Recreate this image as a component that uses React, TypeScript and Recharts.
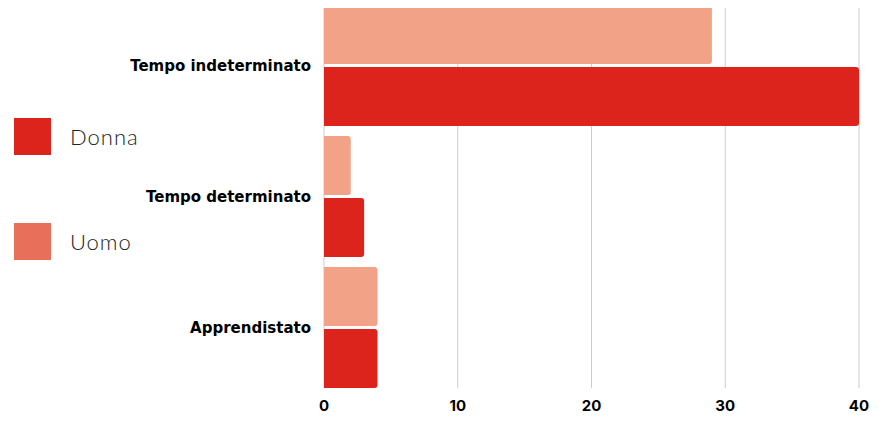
import { BarChart, Bar, XAxis, YAxis, CartesianGrid } from "recharts";

const categories = ["Tempo indeterminato", "Tempo determinato", "Apprendistato"];
const uomo = [29, 2, 4];
const donna = [40, 3, 4];
const xTicks = [0, 10, 20, 30, 40];

const DONNA = "#DC241C";
const UOMO = "#F1A287";
const UOMO_LEGEND = "#E8705A";

const data = categories.map((name, i) => ({ name, Uomo: uomo[i], Donna: donna[i] }));

const legendItems = [
  { label: "Donna", color: DONNA, top: 118 },
  { label: "Uomo", color: UOMO_LEGEND, top: 223 },
];

export default function App() {
  return (
    <div
      style={{
        position: "relative",
        width: 888,
        height: 422,
        margin: -8,
        background: "#fff",
        fontFamily: "Inter, sans-serif",
      }}
    >
      <BarChart
        width={888}
        height={422}
        data={data}
        layout="vertical"
        margin={{ top: 5, right: 29, bottom: 0, left: 0 }}
        barCategoryGap={5}
        barGap={3}
      >
        <CartesianGrid horizontal={false} stroke="#cccccc" />
        <XAxis
          type="number"
          domain={[0, 40]}
          ticks={xTicks}
          axisLine={false}
          tickLine={false}
          height={34}
          tickMargin={6}
          tick={{ fill: "#000", fontSize: 15, fontWeight: 700 }}
        />
        <YAxis
          type="category"
          dataKey="name"
          width={324}
          axisLine={false}
          tickLine={false}
          tickMargin={7}
          padding={{ top: -5, bottom: -5 }}
          tick={{ fill: "#000", fontSize: 15, fontWeight: 700, fontFamily: "DejaVu Sans" }}
        />
        <Bar dataKey="Uomo" fill={UOMO} radius={[0, 3, 3, 0]} isAnimationActive={false} />
        <Bar dataKey="Donna" fill={DONNA} radius={[0, 3, 3, 0]} isAnimationActive={false} />
      </BarChart>
      {legendItems.map((it) => (
        <div
          key={it.label}
          style={{ position: "absolute", left: 14, top: it.top, display: "flex", alignItems: "center" }}
        >
          <div style={{ width: 37, height: 37, background: it.color }} />
          <span
            style={{
              marginLeft: 19,
              fontSize: 22,
              fontWeight: 300,
              letterSpacing: 1,
              color: "#222",
              fontFamily: "Lato, sans-serif",
            }}
          >
            {it.label}
          </span>
        </div>
      ))}
    </div>
  );
}
